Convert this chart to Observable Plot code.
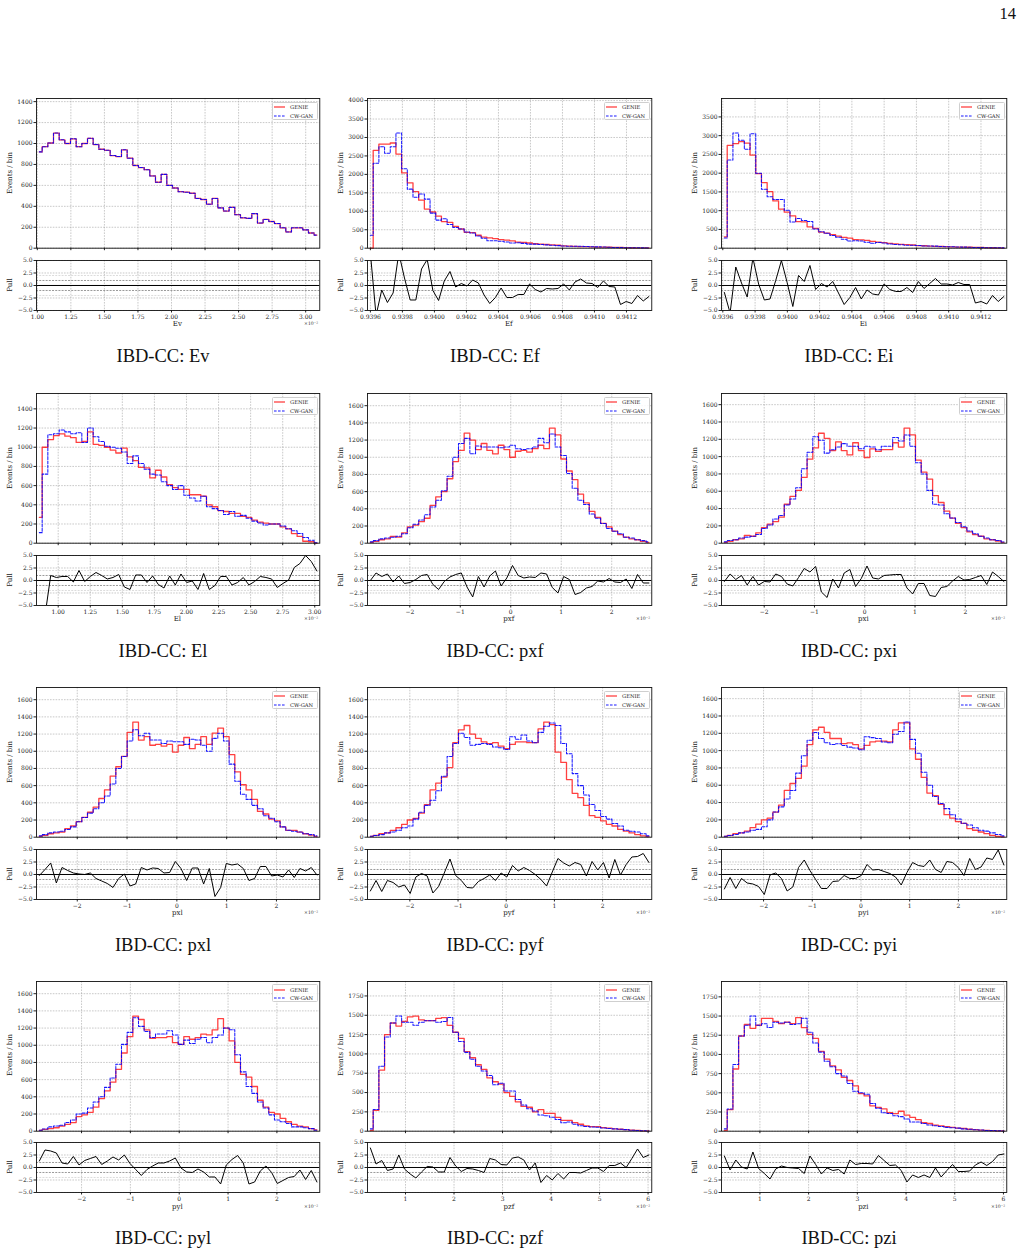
<!DOCTYPE html>
<html>
<head>
<meta charset="utf-8">
<script src="https://cdn.jsdelivr.net/npm/d3@7"></script>
<script src="https://cdn.jsdelivr.net/npm/@observablehq/plot@0.6"></script>
<style>
  body { margin: 0; background: #fff; }
  #page { position: relative; width: 1023px; height: 1255px; background: #fff; overflow: hidden; }
  .t { position: absolute; white-space: nowrap; color: #1a1a1a; line-height: 1; }
  .ylab { font-family: "DejaVu Serif", serif; font-size: 7px; transform: translate(-50%, -50%) rotate(-90deg); }
  .xlab { font-family: "DejaVu Serif", serif; font-size: 7px; transform: translate(-50%, -50%); }
  .off { font-family: "DejaVu Serif", serif; font-size: 4.6px; transform: translate(-100%, -50%); color: #333; }
  .cap { font-family: "Liberation Serif", serif; font-size: 18.5px; transform: translate(-50%, -50%); color: #111; }
  .pg { font-family: "Liberation Serif", serif; font-size: 16.5px; transform: translate(-100%, -50%); color: #111; }
  .leg { position: absolute; border: 0.7px solid #cfcfcf; border-radius: 1.5px; background: rgba(255,255,255,0.85);
         font-family: "DejaVu Serif", serif; font-size: 5.2px; color: #1a1a1a; box-sizing: border-box; }
  .leg .row { position: absolute; left: 1.5px; display: flex; align-items: center; }
  .leg svg { display: block; margin-right: 5px; }
</style>
</head>
<body>
<div id="page"></div>
<script>
// ---- histogram contents: 50 bins per variable (GENIE, CW-GAN) and the pull per bin ----
const evGenie = [920,970,1005,1100,1035,1000,1045,970,1000,1050,990,945,935,885,875,940,860,790,770,750,690,630,705,600,575,540,535,525,475,465,420,475,385,355,390,320,290,285,330,240,275,255,235,195,155,195,195,175,145,125];
const evGan   = [920,970,1005,1100,1035,1000,1045,970,1000,1050,990,945,935,885,875,940,860,790,770,750,690,630,705,600,575,540,535,525,475,465,420,475,385,355,390,320,290,285,330,240,275,255,235,195,155,195,195,175,145,125];
const evPull  = [0,0,0,0,0,0,0,0,0,0,0,0,0,0,0,0,0,0,0,0,0,0,0,0,0,0,0,0,0,0,0,0,0,0,0,0,0,0,0,0,0,0,0,0,0,0,0,0,0,0];

const efGenie = [0,2650,2820,2820,2850,2550,2040,1770,1530,1300,1060,980,870,720,700,590,520,430,420,350,300,280,260,230,220,200,165,160,140,120,110,100,90,80,60,55,50,45,40,35,30,28,25,20,18,15,12,10,8,6];
const efGan   = [350,2300,2750,2570,2750,3120,2150,1600,1380,1470,1330,950,760,800,640,560,520,440,410,330,270,200,200,190,170,140,150,130,110,110,100,90,80,70,60,55,55,50,45,40,35,30,25,20,18,14,12,10,8,6];
const efPull  = [6.5,-6,-0.9,-3.4,-1.5,6.5,1.5,-2.9,-2.9,3.3,5.2,-1.0,-3.0,0.9,2.8,-0.3,0.4,-0.1,1.1,0.5,-1.9,-3.6,-2.4,-0.5,-2.4,-2.4,-1.8,-1.8,0.3,-0.8,-1.3,-0.6,-0.7,-0.6,0.3,-0.9,0.7,1.3,0.5,0.4,-0.4,0.9,-0.2,-0.3,-3.8,-3.2,-3.6,-2.0,-3.1,-2.2];

const eiGenie = [300,2740,2790,2840,2800,2480,1990,1750,1510,1260,1040,960,860,710,700,570,530,430,400,360,320,290,270,230,220,210,180,160,150,130,115,100,95,85,70,65,55,50,45,40,35,30,28,25,20,18,15,12,10,8];
const eiGan   = [270,2350,3070,2880,2640,3050,2000,1570,1370,1300,1300,1010,700,790,740,710,510,440,400,340,290,240,190,200,190,160,130,150,140,110,100,90,80,80,70,60,60,55,45,40,38,32,28,24,20,16,14,12,10,8];
const eiPull  = [-1.4,-5.5,3.7,0.5,-2.3,5.5,0.3,-2.9,-2.7,1.0,5.0,0.6,-4.2,2.0,0.8,4.0,-0.8,0.4,-0.3,0.8,-1.5,-3.8,-2.4,-0.4,-2.7,-0.9,-1.7,-1.9,0.3,-0.8,-1.2,-1.2,-0.4,-1.4,0.8,-0.6,0.4,1.4,0.3,0.3,0.1,0.6,0.2,0.2,-3.5,-3.2,-3.7,-2.0,-3.2,-2.2];

const elGenie = [270,1000,1080,1120,1140,1115,1100,1050,1060,1160,1030,1020,1000,970,940,990,900,860,790,785,680,760,690,610,580,560,560,505,505,490,400,380,340,330,310,310,280,270,240,220,210,200,200,170,150,100,70,20,15,0];
const elGan   = [110,720,1130,1140,1180,1160,1140,1150,1050,1200,1110,1060,1010,1000,990,950,830,910,830,770,720,710,640,600,560,600,500,470,440,490,380,360,340,300,330,280,290,260,230,210,190,200,200,180,150,130,100,60,30,5];
const elPull  = [-12,-7,1.0,0.6,0.8,0.8,-0.3,2.0,-0.2,0.8,1.6,1.0,0.3,0.6,1.2,-1.3,-1.8,1.1,1.1,-0.4,0.9,-0.8,-1.5,0.9,-0.9,1.3,-0.4,-0.1,-1.8,1.4,-1.8,-1.0,0.8,0.8,-0.9,-0.4,0.6,-0.9,-0.2,0.8,0.6,0.3,-1.4,-0.6,0.1,2.6,3.4,5.0,3.8,1.9];

const pxfGenie = [10,20,40,50,80,70,120,190,210,250,290,440,540,600,750,950,1080,1280,1200,1090,1160,1080,1040,1140,1090,1000,1070,1080,1060,1100,1140,1100,1340,1260,980,840,740,570,470,370,300,230,190,140,100,70,50,40,20,10];
const pxfGan   = [15,30,50,60,70,80,110,180,220,270,330,420,500,610,780,1000,1160,1220,1040,1130,1120,1120,1120,1110,1120,1140,1100,1090,1100,1120,1220,1170,1270,1120,1020,810,640,500,450,340,290,230,170,140,110,70,60,40,30,15];
const pxfPull  = [0.0,1.5,0.8,1.3,-0.3,0.9,-0.6,-0.4,0.2,1.0,1.2,-0.8,-1.8,-0.2,0.7,1.2,1.5,-1.3,-3.3,0.8,-1.3,0.9,1.9,-1.1,0.5,3.0,1.0,0.5,0.7,0.6,1.5,1.3,-1.4,-2.5,0.8,0.2,-2.8,-2.4,-1.5,-1.2,-0.1,-0.3,0.4,-0.3,-0.4,0.3,-1.6,1.2,-0.5,-0.5];

const pxiGenie = [10,20,40,50,90,80,120,180,220,250,300,450,540,610,760,970,1100,1270,1210,1070,1170,1070,1020,1160,1070,990,1090,1060,1080,1080,1160,1110,1330,1250,960,820,740,550,470,370,290,230,180,130,100,80,50,40,25,10];
const pxiGan   = [15,30,40,60,70,80,100,170,210,280,320,440,510,640,860,1050,1230,1190,1040,1080,1110,1150,1120,1120,1090,1120,1110,1080,1120,1120,1220,1180,1250,1120,930,800,610,450,440,340,290,240,190,140,110,80,60,40,30,15];
const pxiPull  = [-0.2,1.3,0.2,1.0,-0.9,0.8,-0.9,-0.2,-0.3,1.3,0.8,-0.7,-1.1,0.6,2.4,1.7,2.8,-2.3,-3.4,0.3,-1.5,1.5,2.2,-1.2,0.4,2.9,0.5,0.3,1.0,1.1,1.2,1.2,-1.5,-2.7,-0.6,-0.6,-3.0,-3.2,-1.4,-1.2,-0.1,0.8,0.1,0.2,0.6,1.0,-0.8,1.7,0.8,-0.2];

const pxlGenie = [10,20,40,50,60,100,130,180,230,290,350,450,550,710,820,940,1220,1340,1130,1170,1070,1080,1060,1080,990,1070,1160,1030,1080,1170,1080,1210,1270,1170,960,760,610,550,440,300,270,210,190,120,80,80,60,40,25,10];
const pxlGan   = [15,30,50,60,70,90,120,180,230,280,330,400,480,620,800,940,1120,1250,1180,1210,1130,1130,1090,1120,1110,1110,1080,1140,1130,1070,1000,1150,1210,1120,850,650,500,440,370,330,250,220,180,120,80,70,60,40,30,15];
const pxlPull  = [-0.2,1.0,2.3,-1.7,1.4,0.8,0.3,0.1,0.0,0.3,-0.8,-1.3,-1.8,-2.6,-0.8,0.1,-2.3,-1.9,1.4,0.9,1.3,1.2,0.3,0.4,2.6,1.2,-1.2,1.3,1.3,-1.9,1.2,-4.4,-2.6,2.2,1.9,2.1,1.2,-1.2,-0.8,1.6,1.6,-0.3,-0.1,-0.5,0.9,-0.6,1.2,0.7,1.4,-0.1];

const pyfGenie = [10,20,40,50,80,110,150,200,220,280,380,550,630,700,810,1100,1250,1300,1200,1150,1110,1090,1100,1060,1030,1080,1110,1110,1100,1100,1260,1340,1310,990,870,670,510,460,370,250,230,190,150,130,90,70,50,30,15,8];
const pyfGan   = [10,20,30,50,60,80,110,130,210,290,370,430,540,710,940,1090,1210,1160,1070,1080,1090,1080,1050,1040,1020,1170,1140,1190,1120,1100,1220,1290,1330,1300,1090,970,740,600,490,380,310,240,210,160,130,80,70,60,40,15];
const pyfPull  = [-3.3,-1.2,-3.4,-1.2,-1.6,-2.5,-2.1,-3.8,-0.5,0.2,-0.3,-3.7,-2.4,0.3,3.1,-0.2,-1.2,-2.6,-2.7,-1.4,-0.8,-0.1,-1.2,0.3,-0.5,1.8,0.7,1.4,0.8,0.0,-1.0,-2.3,0.5,3.2,2.3,1.7,2.4,2.0,-0.3,2.6,0.9,2.4,-0.7,3.0,-0.1,2.0,3.5,3.6,4.2,2.4];

const pyiGenie = [10,20,40,50,70,110,150,200,220,290,370,540,620,680,820,1070,1240,1270,1210,1140,1140,1080,1090,1070,1020,1060,1100,1110,1110,1100,1240,1320,1320,1020,900,690,510,480,380,260,220,180,160,100,80,60,40,20,10,5];
const pyiGan   = [10,20,30,50,60,80,90,120,200,290,350,440,540,740,940,1120,1210,1140,1090,1070,1080,1060,1040,1030,1010,1160,1150,1140,1100,1090,1190,1220,1330,1130,970,750,600,470,390,330,260,210,160,140,110,80,70,50,30,15];
const pyiPull  = [-2.9,-0.6,-2.8,-0.8,-1.7,-1.9,-2.4,-4.0,-0.1,0.3,-0.8,-3.3,-2.5,1.4,2.9,0.8,-1.0,-2.8,-2.8,-1.4,-1.3,-0.2,-0.8,-0.8,-0.2,2.0,0.9,1.0,0.6,0.2,-0.5,-2.1,0.4,2.4,1.8,1.6,2.9,1.0,0.4,2.6,2.4,1.4,-0.2,3.2,1.0,1.5,3.3,3.0,4.9,1.9];

const pylGenie = [10,20,30,40,60,80,100,170,190,220,280,380,470,570,720,910,1100,1340,1300,1180,1080,1090,1090,1100,1030,1010,1100,1070,1090,1130,1120,1180,1310,1200,1050,800,660,630,520,360,280,220,200,150,110,80,60,50,30,15];
const pylGan   = [10,25,50,60,70,100,130,200,210,270,340,400,510,620,780,1010,1150,1320,1220,1160,1090,1130,1130,1170,1120,1010,1060,1020,1070,1090,1030,1090,1120,1200,1180,890,690,520,440,340,270,190,130,110,90,50,50,40,30,10];
const pylPull  = [1.3,3.5,3.3,2.9,0.9,0.7,2.2,0.5,1.4,1.8,2.2,0.6,1.3,2.1,1.5,2.5,0.8,-0.4,-1.6,-0.4,0.3,0.9,0.9,1.3,1.9,-0.1,-0.9,-1.0,-0.3,-0.9,-1.9,-1.9,-3.3,0.5,1.6,2.4,0.9,-3.3,-2.9,-0.7,0.3,-1.0,-3.2,-2.6,-2.0,-1.8,-0.5,-2.4,-0.6,-2.9];

const pzfGenie = [10,270,790,1250,1400,1360,1420,1480,1490,1440,1430,1430,1460,1470,1370,1280,1200,1030,950,860,800,690,640,610,500,450,380,320,310,250,280,230,230,180,140,140,110,90,70,60,60,45,40,30,25,20,15,10,5,3];
const pzfGan   = [30,280,840,1220,1400,1490,1410,1410,1370,1410,1430,1430,1410,1420,1470,1280,1160,1020,930,840,780,720,600,620,520,520,410,340,290,260,210,200,180,150,110,120,90,70,60,55,50,40,35,30,25,20,12,8,5,3];
const pzfPull  = [3.9,0.7,1.4,-0.6,-0.3,2.5,-0.3,-1.3,-2.1,-0.9,0.2,0.1,-0.9,-0.9,2.0,0.3,-0.8,-0.2,-0.3,-0.6,-1.0,1.8,1.5,0.6,0.5,1.9,2.1,1.5,-0.5,0.9,-3.0,-1.6,-2.5,-1.2,-2.3,-1.0,-1.0,-1.1,-0.6,-0.1,-0.1,-0.8,0.4,0.4,0.9,0.0,1.8,3.7,2.0,2.5];

const pziGenie = [10,280,810,1240,1390,1340,1380,1470,1470,1430,1400,1420,1400,1480,1350,1260,1210,1040,940,850,800,700,660,590,490,460,330,310,290,240,230,260,210,180,150,110,100,80,70,60,50,40,35,25,20,15,10,8,5,3];
const pziGan   = [30,290,870,1240,1380,1500,1380,1400,1350,1420,1410,1420,1390,1400,1470,1290,1150,1030,910,840,750,720,620,520,500,480,360,300,240,230,200,190,160,120,120,100,80,70,60,50,45,40,30,25,20,15,10,8,5,3];
const pziPull  = [2.3,-0.5,1.5,0.1,-0.3,3.1,-0.2,-1.2,-2.3,-0.3,0.3,0.0,-0.1,-0.2,-1.2,2.3,0.6,-1.3,-0.1,-0.6,-0.4,-1.3,1.5,0.6,0.8,0.8,0.7,2.4,1.4,0.4,0.5,-0.6,-2.9,-1.5,-2.0,-1.5,-2.0,-0.1,-1.9,-0.6,0.6,-0.8,-0.8,-0.7,0.5,1.1,0.4,1.2,2.5,2.7];

// ---- tick values ----
const xTicksE = [1.00,1.25,1.50,1.75,2.00,2.25,2.50,2.75,3.00];
const xTicksF = [0.9396,0.9398,0.9400,0.9402,0.9404,0.9406,0.9408,0.9410,0.9412];
const xTicksP = [-2,-1,0,1,2];
const xTicksZ = [1,2,3,4,5,6];
const yTicks1400 = [0,200,400,600,800,1000,1200,1400];
const yTicks4000 = [0,500,1000,1500,2000,2500,3000,3500,4000];
const yTicks3500 = [0,500,1000,1500,2000,2500,3000,3500];
const yTicks1600 = [0,200,400,600,800,1000,1200,1400,1600];
const yTicks1750 = [0,250,500,750,1000,1250,1500,1750];
const pullTicks  = [-5,-2.5,0,2.5,5];

// ---- legend entries and captions ----
const seriesNames = ["GENIE", "CW-GAN"];
const captionPrefix = "IBD-CC: ";
const pageNumber = "14";

// x range of the binned variable (in the displayed units), ticks and formatting
const panels = [
  {name:"Ev",  lo:0.994,    hi:3.105,    xTicks:xTicksE, fmt:".2f", offset:true,  yTicks:yTicks1400, genie:evGenie,  gan:evGan,  pull:evPull},
  {name:"Ef",  lo:0.939582, hi:0.941358, xTicks:xTicksF, fmt:".4f", offset:false, yTicks:yTicks4000, genie:efGenie,  gan:efGan,  pull:efPull},
  {name:"Ei",  lo:0.939592, hi:0.941360, xTicks:xTicksF, fmt:".4f", offset:false, yTicks:yTicks3500, genie:eiGenie,  gan:eiGan,  pull:eiPull},
  {name:"El",  lo:0.831,    hi:3.039,    xTicks:xTicksE, fmt:".2f", offset:true,  yTicks:yTicks1400, genie:elGenie,  gan:elGan,  pull:elPull},
  {name:"pxf", lo:-2.837,   hi:2.793,    xTicks:xTicksP, fmt:"d",   offset:true,  yTicks:yTicks1600, genie:pxfGenie, gan:pxfGan, pull:pxfPull},
  {name:"pxi", lo:-2.849,   hi:2.825,    xTicks:xTicksP, fmt:"d",   offset:true,  yTicks:yTicks1600, genie:pxiGenie, gan:pxiGan, pull:pxiPull},
  {name:"pxl", lo:-2.818,   hi:2.870,    xTicks:xTicksP, fmt:"d",   offset:true,  yTicks:yTicks1600, genie:pxlGenie, gan:pxlGan, pull:pxlPull},
  {name:"pyf", lo:-2.878,   hi:3.020,    xTicks:xTicksP, fmt:"d",   offset:true,  yTicks:yTicks1600, genie:pyfGenie, gan:pyfGan, pull:pyfPull},
  {name:"pyi", lo:-2.863,   hi:2.993,    xTicks:xTicksP, fmt:"d",   offset:true,  yTicks:yTicks1600, genie:pyiGenie, gan:pyiGan, pull:pyiPull},
  {name:"pyl", lo:-2.922,   hi:2.878,    xTicks:xTicksP, fmt:"d",   offset:true,  yTicks:yTicks1600, genie:pylGenie, gan:pylGan, pull:pylPull},
  {name:"pzf", lo:0.217,    hi:6.076,    xTicks:xTicksZ, fmt:"d",   offset:true,  yTicks:yTicks1750, genie:pzfGenie, gan:pzfGan, pull:pzfPull},
  {name:"pzi", lo:0.212,    hi:6.068,    xTicks:xTicksZ, fmt:"d",   offset:true,  yTicks:yTicks1750, genie:pziGenie, gan:pziGan, pull:pziPull}
];

// ---- page geometry ----
const colLeft  = [35.7, 366.7, 720.7];
const colWidth = [283.3, 284.3, 285.3];
const colCap   = [163, 495, 849];
const rowTop   = [98.3, 393.3, 687.3, 980.6];
const mainH = 149.7, gapH = 11.9, pullH = 50;
const ml = 30, mr = 4, mt = 4, mb = 4, mbPull = 14;

const page = document.getElementById("page");
const svgStyle = {fontFamily: "DejaVu Serif, serif", fontSize: "6px", background: "transparent", color: "#222", overflow: "visible"};
const gridStyle = {stroke: "#9a9a9a", strokeOpacity: 0.9, strokeWidth: 0.6, strokeDasharray: "1.6,1.2"};
const RED = "#ff0000", BLUE = "#0000ff";

function addText(cls, text, x, y) {
  const d = document.createElement("div");
  d.className = "t " + cls;
  d.textContent = text;
  d.style.left = x + "px";
  d.style.top = y + "px";
  page.appendChild(d);
  return d;
}

function place(svg, x, y) {
  svg.style.position = "absolute";
  svg.style.left = x + "px";
  svg.style.top = y + "px";
  page.appendChild(svg);
}

function addLegend(x, y) {
  const box = document.createElement("div");
  box.className = "leg";
  box.style.left = x + "px"; box.style.top = y + "px";
  box.style.width = "46px"; box.style.height = "18.5px";
  const styles = [
    {stroke: RED, dash: null, w: 1.3, op: 0.75},
    {stroke: BLUE, dash: "2.6,1.4", w: 1.1, op: 0.9}
  ];
  seriesNames.forEach((name, i) => {
    const row = document.createElement("div");
    row.className = "row";
    row.style.top = (i === 0 ? 1.3 : 9.6) + "px";
    row.style.height = "7px";
    const ns = "http://www.w3.org/2000/svg";
    const s = document.createElementNS(ns, "svg");
    s.setAttribute("width", "11"); s.setAttribute("height", "4");
    const ln = document.createElementNS(ns, "line");
    ln.setAttribute("x1", "0"); ln.setAttribute("x2", "11");
    ln.setAttribute("y1", "2"); ln.setAttribute("y2", "2");
    ln.setAttribute("stroke", styles[i].stroke);
    ln.setAttribute("stroke-opacity", styles[i].op);
    ln.setAttribute("stroke-width", styles[i].w);
    if (styles[i].dash) ln.setAttribute("stroke-dasharray", styles[i].dash);
    s.appendChild(ln);
    row.appendChild(s);
    const sp = document.createElement("span");
    sp.textContent = name;
    row.appendChild(sp);
    box.appendChild(row);
  });
  page.appendChild(box);
}

panels.forEach((p, idx) => {
  const c = idx % 3, r = Math.floor(idx / 3);
  const L = colLeft[c], W = colWidth[c], T = rowTop[r];
  const N = p.genie.length;
  const binW = (p.hi - p.lo) / N;
  const rows = p.genie.map((g, i) => ({x: p.lo + (i + 0.5) * binW, genie: g, gan: p.gan[i], pull: p.pull[i]}));
  const yTop = d3.max([...p.genie, ...p.gan]) * 1.3;

  // upper pad: the two histograms
  const main = Plot.plot({
    width: W + ml + mr, height: mainH + mt + mb,
    marginLeft: ml, marginRight: mr, marginTop: mt, marginBottom: mb,
    style: svgStyle,
    x: {domain: [p.lo, p.hi]},
    y: {domain: [0, yTop]},
    marks: [
      Plot.gridX(p.xTicks, gridStyle),
      Plot.gridY(p.yTicks, gridStyle),
      Plot.lineY(rows, {x: "x", y: "genie", curve: "step", stroke: RED, strokeOpacity: 0.75, strokeWidth: 1.3}),
      Plot.lineY(rows, {x: "x", y: "gan", curve: "step", stroke: BLUE, strokeOpacity: 0.9, strokeWidth: 1.05, strokeDasharray: "2.8,1.5"}),
      Plot.axisX(p.xTicks, {tickSize: 2.5, tickFormat: () => "", label: null}),
      Plot.axisY(p.yTicks, {tickSize: 2.5, tickPadding: 1.5, tickFormat: d => String(d), label: null}),
      Plot.frame({stroke: "#111", strokeWidth: 0.9})
    ]
  });
  place(main, L - ml, T - mt);

  // lower pad: pull per bin
  const pt = T + mainH + gapH;
  const pull = Plot.plot({
    width: W + ml + mr, height: pullH + mt + mbPull,
    marginLeft: ml, marginRight: mr, marginTop: mt, marginBottom: mbPull,
    style: svgStyle,
    x: {domain: [p.lo, p.hi]},
    y: {domain: [-5, 5]},
    marks: [
      Plot.gridX(p.xTicks, gridStyle),
      Plot.gridY(pullTicks, gridStyle),
      Plot.ruleY([-2, 2], {stroke: "#c4c4c4", strokeWidth: 0.6, strokeDasharray: "2,1.2"}),
      Plot.ruleY([-1, 1], {stroke: "#555", strokeWidth: 0.6, strokeDasharray: "2,1.2"}),
      Plot.ruleY([0], {stroke: "#000", strokeWidth: 1}),
      Plot.line(rows, {x: "x", y: "pull", stroke: "#000", strokeWidth: 1, clip: true}),
      Plot.axisX(p.xTicks, {tickSize: 2.5, tickPadding: 1.5, tickFormat: d3.format(p.fmt), label: null}),
      Plot.axisY(pullTicks, {tickSize: 2.5, tickPadding: 1.5, tickFormat: d3.format(".1f"), label: null}),
      Plot.frame({stroke: "#111", strokeWidth: 0.9})
    ]
  });
  place(pull, L - ml, pt - mt);

  const pb = pt + pullH;
  addText("ylab", "Events / bin", L - 25.5, T + mainH / 2);
  addText("ylab", "Pull", L - 25.5, pt + pullH / 2);
  addText("xlab", p.name, L + W / 2, pb + 14.5);
  if (p.offset) addText("off", "×10⁻²", L + W - 1, pb + 14.5);
  addLegend(L + W - 47.5, T + 3.3);
  addText("cap", captionPrefix + p.name, colCap[c], T + 257.7);
});

addText("pg", pageNumber, 1016, 14);
</script>
</body>
</html>
